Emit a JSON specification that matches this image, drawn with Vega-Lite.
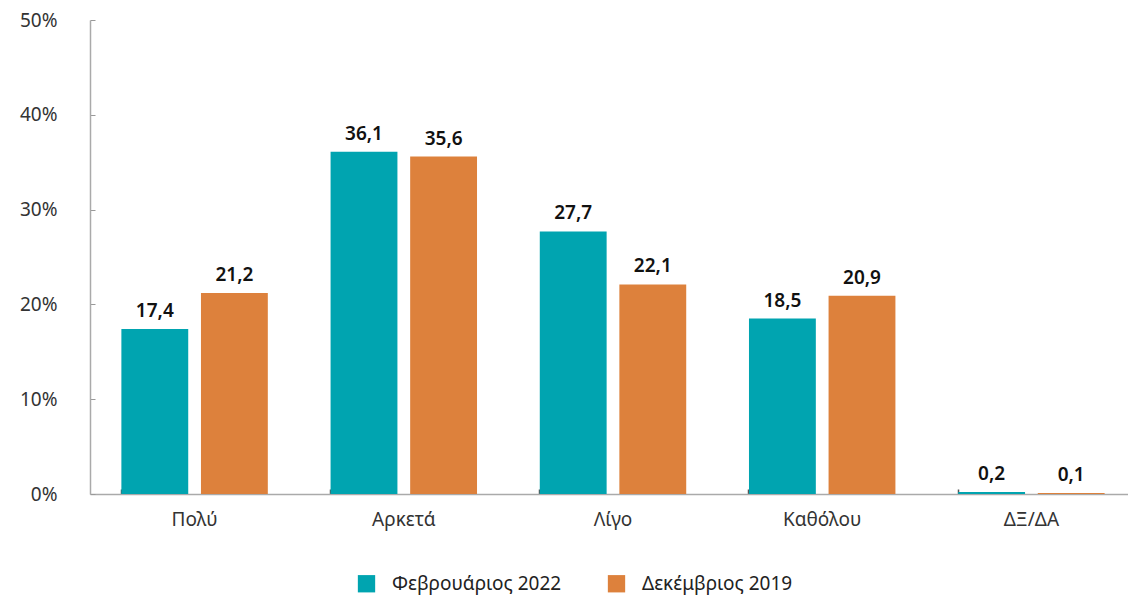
{
  "$schema": "https://vega.github.io/schema/vega-lite/v6.json",
  "autosize": {"type": "none"},
  "width": 1038,
  "height": 474,
  "padding": {"left": 90, "top": 20, "right": 0, "bottom": 107},
  "background": "white",
  "config": {
    "view": {"stroke": null},
    "font": "Noto Sans",
    "axis": {"grid": false, "domainColor": "#aaaaaa", "domainWidth": 1.5, "labelFont": "Noto Sans", "labelFontSize": 19, "labelColor": "#333333"},
    "legend": {"labelFont": "Noto Sans", "labelFontSize": 19, "labelColor": "#222222", "labelLimit": 400}
  },
  "data": {
    "values": [
      {"cat": "Πολύ", "series": "Φεβρουάριος 2022", "value": 17.4, "label": "17,4"},
      {"cat": "Πολύ", "series": "Δεκέμβριος 2019", "value": 21.2, "label": "21,2"},
      {"cat": "Αρκετά", "series": "Φεβρουάριος 2022", "value": 36.1, "label": "36,1"},
      {"cat": "Αρκετά", "series": "Δεκέμβριος 2019", "value": 35.6, "label": "35,6"},
      {"cat": "Λίγο", "series": "Φεβρουάριος 2022", "value": 27.7, "label": "27,7"},
      {"cat": "Λίγο", "series": "Δεκέμβριος 2019", "value": 22.1, "label": "22,1"},
      {"cat": "Καθόλου", "series": "Φεβρουάριος 2022", "value": 18.5, "label": "18,5"},
      {"cat": "Καθόλου", "series": "Δεκέμβριος 2019", "value": 20.9, "label": "20,9"},
      {"cat": "ΔΞ/ΔΑ", "series": "Φεβρουάριος 2022", "value": 0.2, "label": "0,2"},
      {"cat": "ΔΞ/ΔΑ", "series": "Δεκέμβριος 2019", "value": 0.1, "label": "0,1"}
    ]
  },
  "encoding": {
    "x": {
      "field": "cat", "type": "nominal", "sort": null, "title": null,
      "scale": {"range": [0, 1046], "paddingInner": 0.3, "paddingOuter": 0.15},
      "axis": {"labelAngle": 0, "bandPosition": 0, "tickSize": -5, "tickColor": "#555555", "tickWidth": 1.5, "labelPadding": 21}
    },
    "xOffset": {"field": "series", "type": "nominal", "sort": ["Φεβρουάριος 2022", "Δεκέμβριος 2019"], "scale": {"paddingInner": 0.16, "paddingOuter": 0}},
    "y": {
      "field": "value", "type": "quantitative", "title": null,
      "scale": {"domain": [0, 50], "nice": false},
      "axis": {"values": [0, 10, 20, 30, 40, 50], "labelExpr": "datum.value + '%'", "tickSize": -5, "tickColor": "#999999", "labelPadding": 38}
    }
  },
  "layer": [
    {
      "mark": {"type": "bar"},
      "encoding": {
        "color": {
          "field": "series", "type": "nominal", "sort": ["Φεβρουάριος 2022", "Δεκέμβριος 2019"],
          "scale": {"domain": ["Φεβρουάριος 2022", "Δεκέμβριος 2019"], "range": ["#00A4B0", "#DD813C"]},
          "legend": {"title": null, "orient": "none", "direction": "horizontal", "legendX": 267, "legendY": 554, "symbolType": "square", "symbolSize": 300, "symbolStrokeWidth": 0, "symbolOpacity": 1, "labelOffset": 16, "columnPadding": 45, "labelLimit": 400}
        }
      }
    },
    {
      "mark": {"type": "text", "baseline": "bottom", "dy": -8, "fontSize": 19, "fontWeight": 600, "color": "#111111"},
      "encoding": {"text": {"field": "label"}}
    }
  ]
}
